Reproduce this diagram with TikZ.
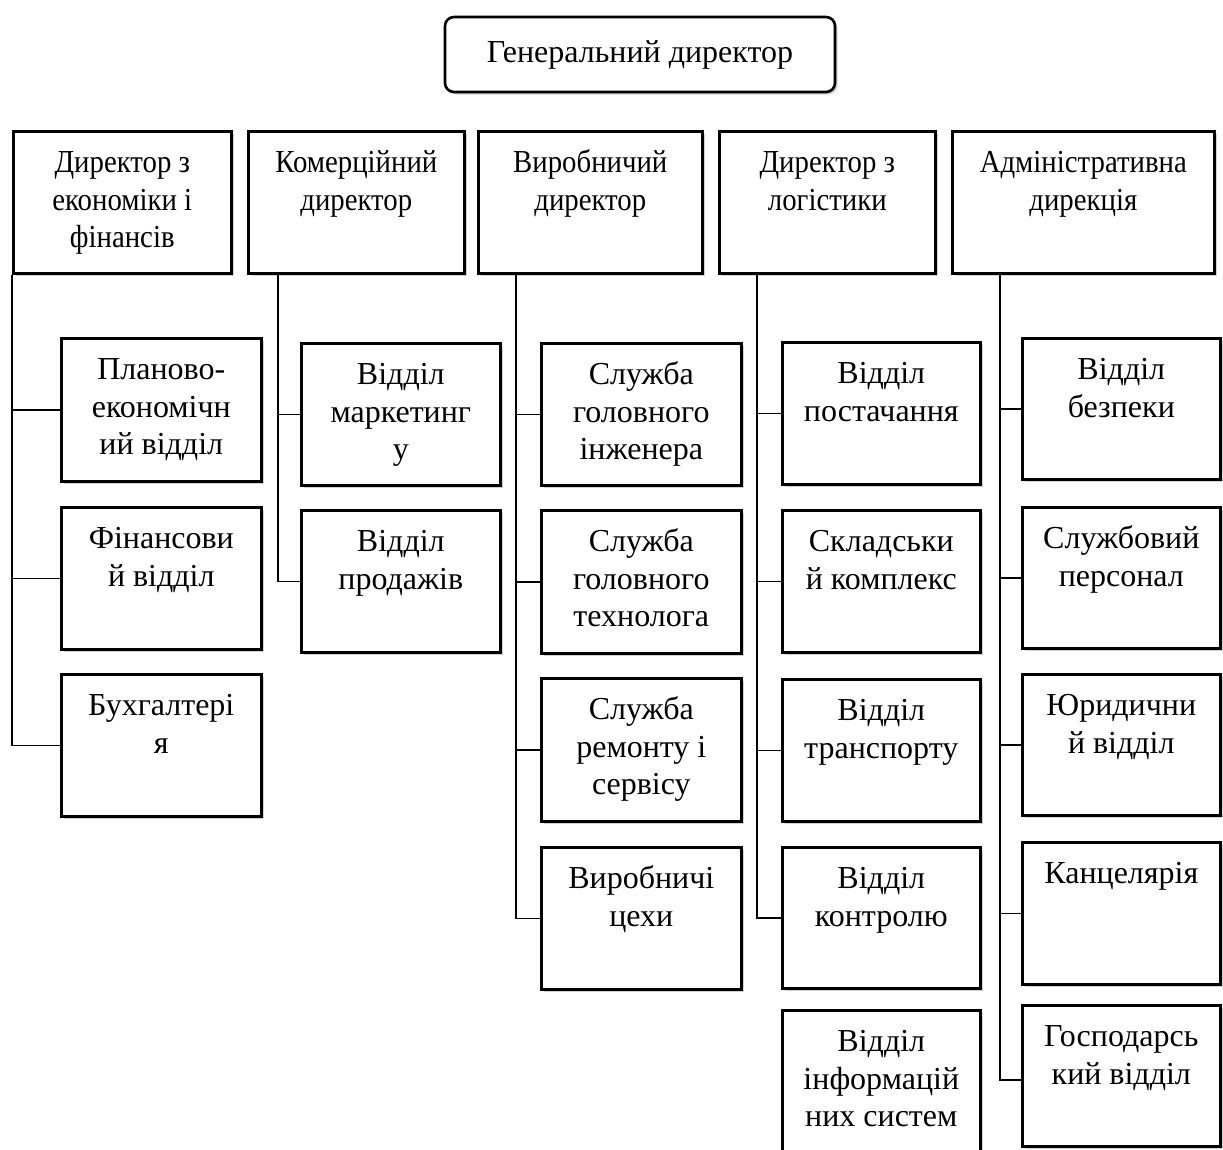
\documentclass[tikz,border=0pt]{standalone}
\usepackage{fontspec}
\setmainfont{Liberation Serif}
\newfontfamily\condserif{Liberation Serif}[FakeStretch=0.9]
\usetikzlibrary{shadows}

\tikzset{
  boxsh/.style={draw=black, line width=2.6pt, fill=white, inner sep=0pt, anchor=north west,
    drop shadow={shadow xshift=2.5pt, shadow yshift=-2.5pt, opacity=0.25, fill=black!70}},
  gdbox/.style={boxsh, anchor=center, rounded corners=9pt, minimum width=390pt, minimum height=75pt},
  conn/.style={line width=1.4pt}
}
% name, left, top, width, height, text
\newcommand\lvtwo[6]{%
  \node[boxsh, minimum width=#4pt, minimum height=#5pt] (#1) at (#2,#3)
    {\parbox[c][#5pt][t]{#4pt}{\condserif\centering\vspace*{15pt}\strut #6}};}
\newcommand\lvthree[6]{%
  \node[boxsh, minimum width=#4pt, minimum height=#5pt] (#1) at (#2,#3)
    {\parbox[c][#5pt][t]{#4pt}{\centering\vspace*{15pt}\strut #6}};}

\begin{document}
\begin{tikzpicture}[x=1pt, y=-1pt, every node/.style={font=\fontsize{32}{37.5}\selectfont}]
\useasboundingbox[fill=white] (0,0) rectangle (1223,1149);

% General director
\node[gdbox] (gd) at (640,54.5) {\raisebox{3pt}{Генеральний директор}};

% Level 2
\lvtwo{d1}{12}{130}{218}{142}{Директор з\\економіки і\\фінансів}
\lvtwo{d2}{247}{130}{216}{142}{Комерційний\\директор}
\lvtwo{d3}{477}{130}{224}{142}{Виробничий\\директор}
\lvtwo{d4}{718}{130}{216}{142}{Директор з\\логістики}
\lvtwo{d5}{951}{130}{262}{142}{Адміністративна\\дирекція}

% Column 1
\lvthree{p1}{60}{337}{200}{143}{Планово-\\економічн\\ий відділ}
\lvthree{p2}{60}{506}{200}{142}{Фінансови\\й відділ}
\lvthree{p3}{60}{673}{200}{142}{Бухгалтері\\я}
% Column 2
\lvthree{m1}{300}{342}{199}{142}{Відділ\\маркетинг\\у}
\lvthree{m2}{300}{509}{199}{142}{Відділ\\продажів}
% Column 3
\lvthree{v1}{540}{342}{200}{142}{Служба\\головного\\інженера}
\lvthree{v2}{540}{509}{200}{143}{Служба\\головного\\технолога}
\lvthree{v3}{540}{677}{200}{143}{Служба\\ремонту і\\сервісу}
\lvthree{v4}{540}{846}{200}{142}{Виробничі\\цехи}
% Column 4
\lvthree{l1}{781}{341}{198}{142}{Відділ\\постачання}
\lvthree{l2}{781}{509}{198}{142}{Складськи\\й комплекс}
\lvthree{l3}{781}{678}{198}{142}{Відділ\\транспорту}
\lvthree{l4}{781}{846}{198}{141}{Відділ\\контролю}
\lvthree{l5}{781}{1009}{198}{145}{Відділ\\інформацій\\них систем}
% Column 5
\lvthree{a1}{1021}{337}{198}{141}{Відділ\\безпеки}
\lvthree{a2}{1021}{506}{198}{141}{Службовий\\персонал}
\lvthree{a3}{1021}{673}{198}{141}{Юридични\\й відділ}
\lvthree{a4}{1021}{841}{198}{142}{Канцелярія}
\lvthree{a5}{1021}{1004}{198}{141}{Господарсь\\кий відділ}

% Trunk starting points
\coordinate (t1) at (d1.south west);
\coordinate (t2) at (278,272);
\coordinate (t3) at (516,272);
\coordinate (t4) at (757,272);
\coordinate (t5) at (1000,272);
\coordinate (e5) at (1021,1080);

% Connectors
\draw[conn] (t1) |- (p3.west);
\draw[conn] (t1 |- p1.west) -- (p1.west);
\draw[conn] (t1 |- p2.west) -- (p2.west);

\draw[conn] (t2) |- (m2.west);
\draw[conn] (t2 |- m1.west) -- (m1.west);

\draw[conn] (t3) |- (v4.west);
\draw[conn] (t3 |- v1.west) -- (v1.west);
\draw[conn] (t3 |- v2.west) -- (v2.west);
\draw[conn] (t3 |- v3.west) -- (v3.west);

\draw[conn] (t4) |- (l4.west);
\draw[conn] (t4 |- l1.west) -- (l1.west);
\draw[conn] (t4 |- l2.west) -- (l2.west);
\draw[conn] (t4 |- l3.west) -- (l3.west);

\draw[conn] (t5) |- (e5);
\draw[conn] (t5 |- a1.west) -- (a1.west);
\draw[conn] (t5 |- a2.west) -- (a2.west);
\draw[conn] (t5 |- a3.west) -- (a3.west);
\draw[conn] (t5 |- a4.west) -- (a4.west);
\end{tikzpicture}
\end{document}
